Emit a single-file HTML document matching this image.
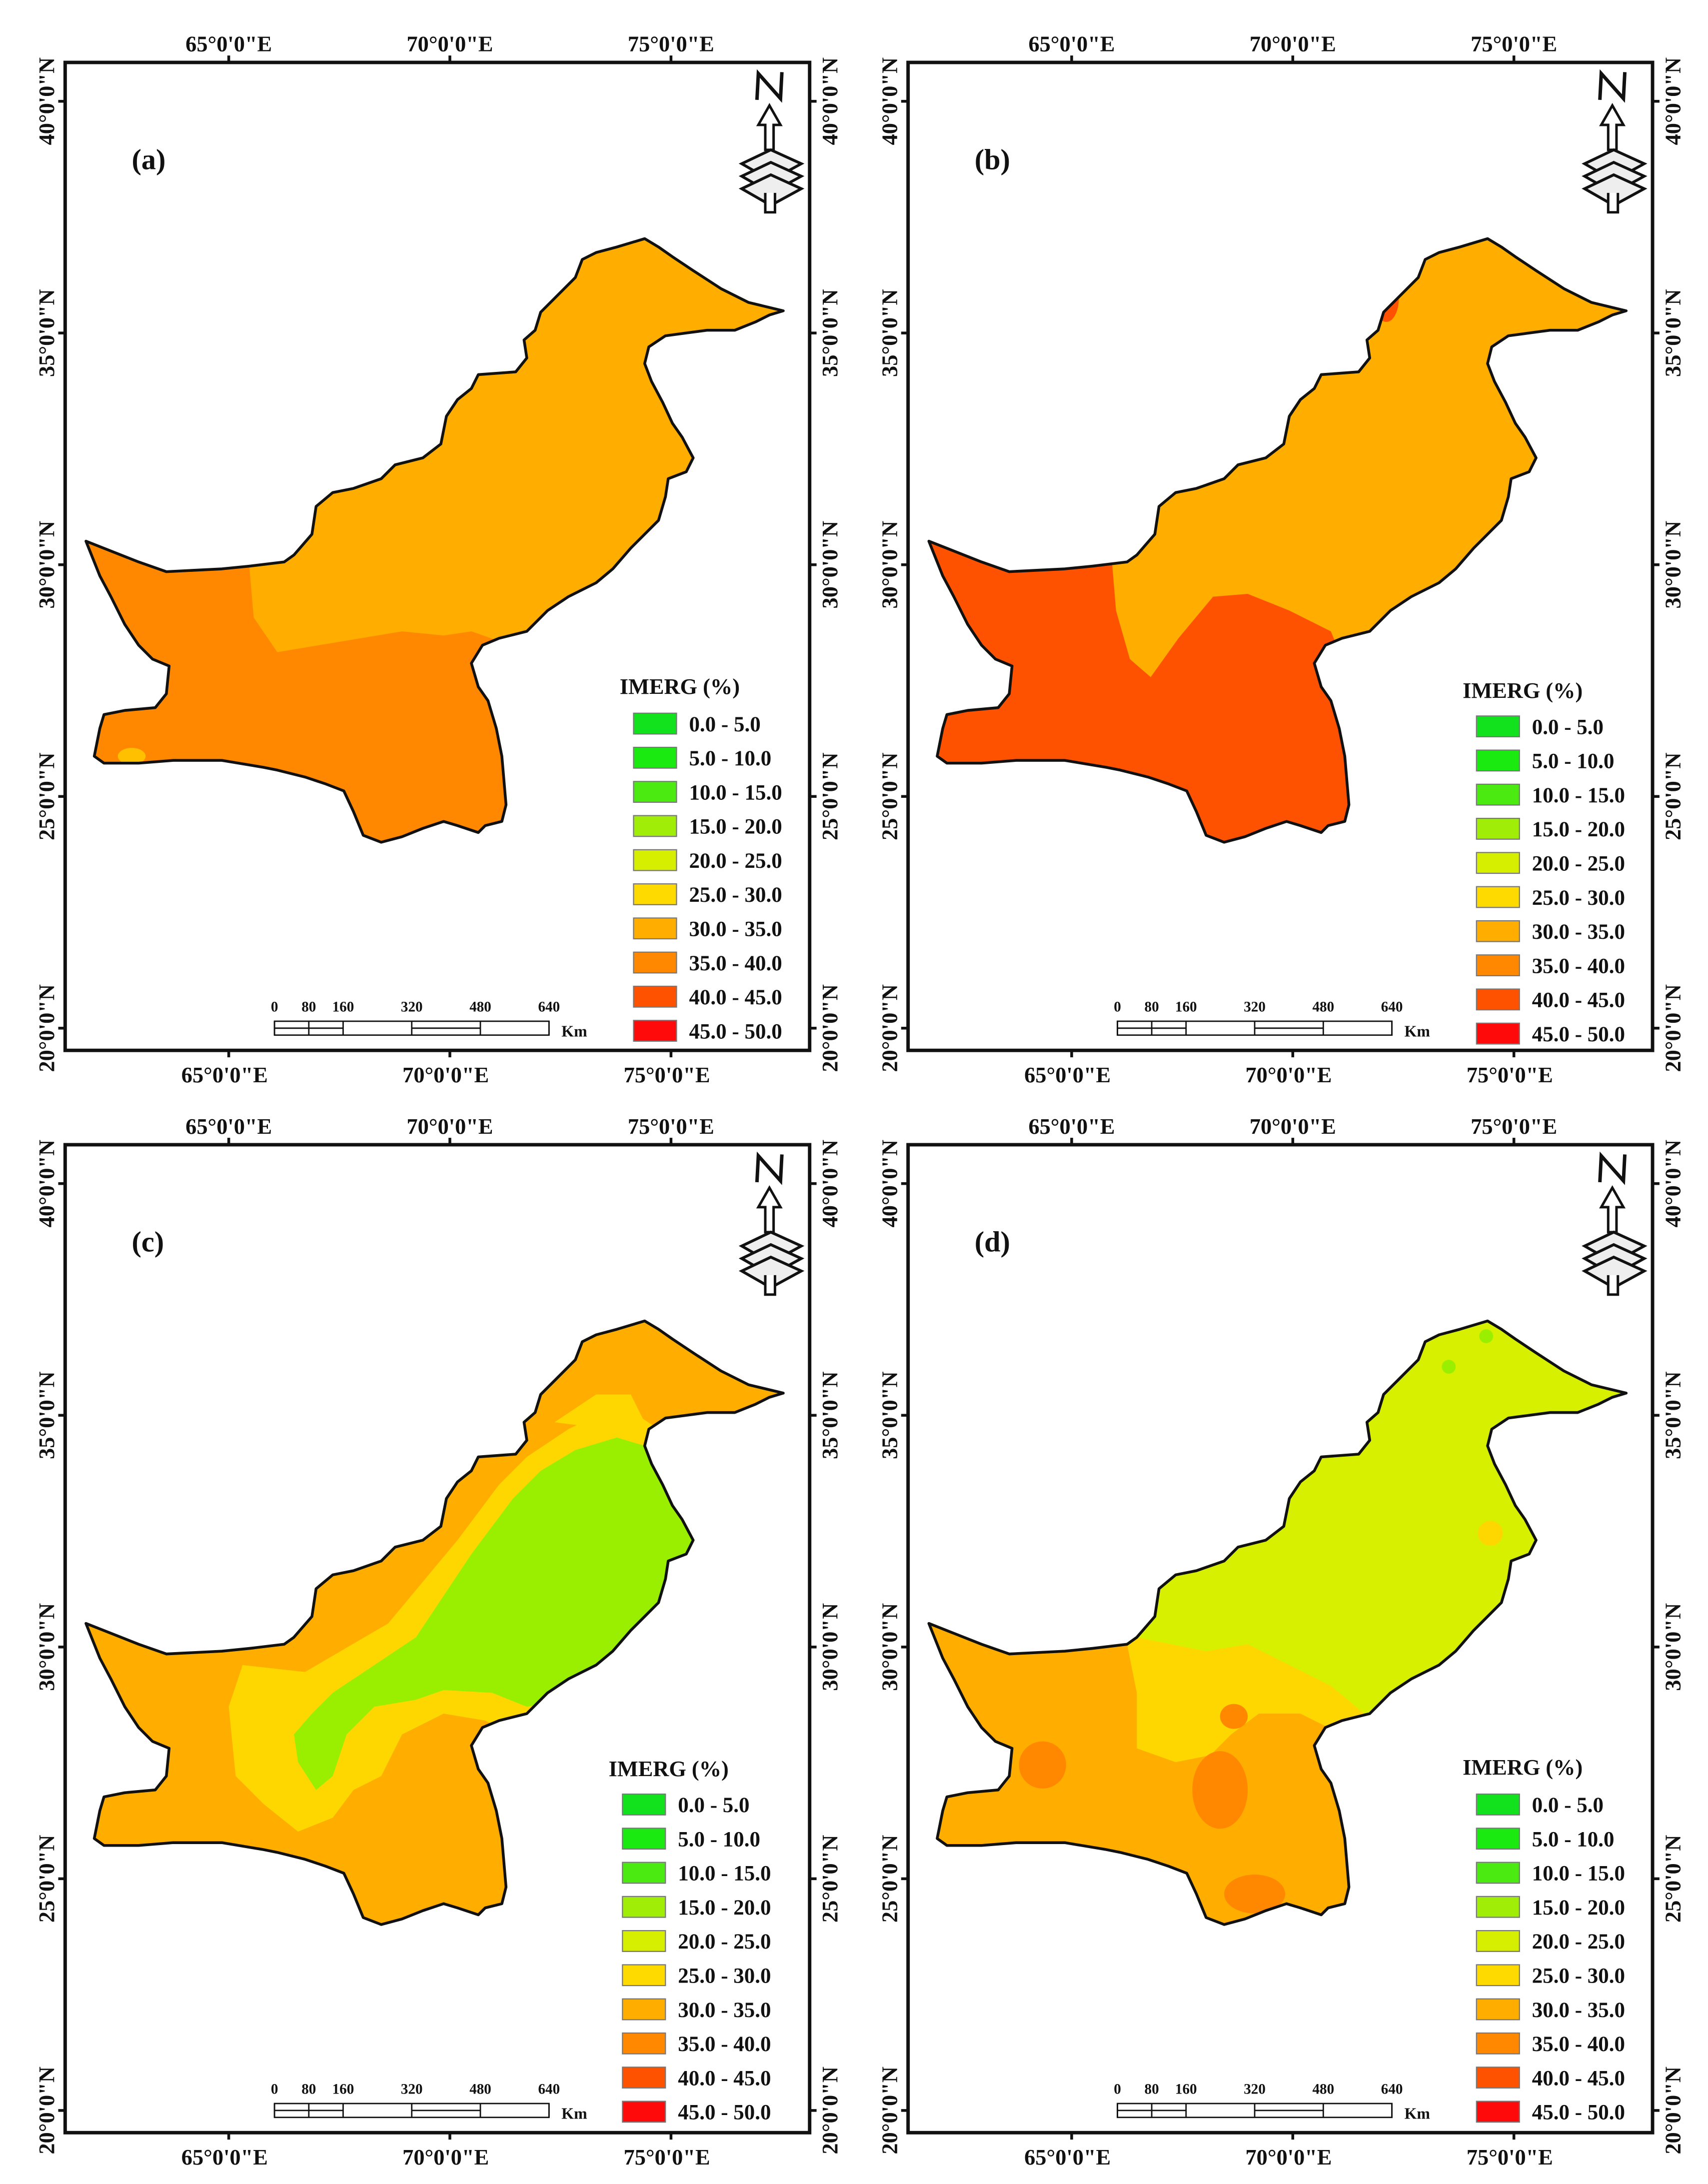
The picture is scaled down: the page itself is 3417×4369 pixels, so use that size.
<!DOCTYPE html>
<html><head><meta charset="utf-8">
<style>
html,body{margin:0;padding:0;background:#fff;}
svg{display:block;}
text{font-family:"Liberation Serif",serif;font-weight:bold;fill:#111;}
</style></head>
<body>
<svg id="fig" xmlns="http://www.w3.org/2000/svg" width="3417" height="4369" viewBox="0 0 1232 1574" preserveAspectRatio="none"></svg>
<script>
// ---- data ----
const panelLetters = ["(a)","(b)","(c)","(d)"];
const legendRanges = ["0.0 - 5.0","5.0 - 10.0","10.0 - 15.0","15.0 - 20.0","20.0 - 25.0","25.0 - 30.0","30.0 - 35.0","35.0 - 40.0","40.0 - 45.0","45.0 - 50.0"];
const legendColors = ["#12E21E","#1BEA10","#4BEA10","#A0EE08","#D6EE00","#FFDA00","#FFAE00","#FF8800","#FF5200","#FF0A0A"];
const lonTicks = [65,70,75];
const latTicks = [40,35,30,25,20];
const scaleLabels = ["0","80","160","320","480","640"];
const scaleKm = [0,80,160,320,480,640];

const NS="http://www.w3.org/2000/svg";
const svg=document.getElementById('fig');
function mk(tag,attrs,parent){const e=document.createElementNS(NS,tag);for(const k in attrs)e.setAttribute(k,attrs[k]);(parent||svg).appendChild(e);return e;}

const lonX = v => 165 + (v-65)*31.9;
const latY = v => 73 + (40-v)*33.4;
const kmX = v => 198 + v*(198/640);

const outline="M62,390 L100,405 L120,412 L160,410 L180,408 L205,405 L212,400 L225,385 L228,365 L240,355 L255,352 L275,345 L285,335 L305,330 L318,320 L322,300 L330,288 L340,280 L345,270 L372,268 L380,258 L378,245 L386,238 L390,225 L400,215 L415,200 L420,187 L430,182 L445,178 L465,172 L475,178 L485,185 L500,195 L520,208 L540,218 L565,224 L555,227 L545,232 L530,238 L510,238 L495,240 L480,242 L468,250 L465,262 L470,275 L478,290 L485,305 L492,315 L500,330 L495,340 L482,345 L480,358 L475,375 L465,385 L455,395 L442,410 L430,420 L410,430 L395,440 L380,455 L360,460 L348,465 L340,478 L345,495 L352,505 L358,525 L362,545 L365,580 L362,592 L350,595 L345,600 L330,595 L320,592 L305,597 L290,603 L275,607 L262,602 L255,585 L248,570 L235,565 L220,560 L200,555 L190,553 L160,548 L125,548 L100,550 L75,550 L68,545 L72,525 L75,515 L90,512 L112,510 L120,500 L122,480 L110,475 L100,465 L90,450 L80,430 L72,415 Z";

const offsets=[[0,0],[608,0],[0,780],[608,780]];
const regions=[
 [["poly","#FFAE00","0,0 700,0 700,700 0,700"],
  ["poly","#FF8800","0,380 178,380 180,410 183,445 200,470 230,465 260,460 290,455 320,458 340,455 360,462 380,470 400,700 0,700"],
  ["ell","#FFC000",95,545,10,6]],
 [["poly","#FFAE00","0,0 700,0 700,700 0,700"],
  ["poly","#FF5200","0,380 192,380 197,440 207,475 222,488 242,460 267,430 292,428 322,440 352,455 362,480 420,700 0,700"],
  ["ell","#FF5200",392,215,9,17]],
 [["poly","#FFAE00","0,0 700,0 700,700 0,700"],
  ["poly","#FFD700","165,450 175,420 220,425 280,390 330,330 360,290 380,270 410,250 440,235 460,240 490,260 520,320 520,400 470,440 420,470 380,475 350,460 320,455 290,470 275,500 255,510 240,530 215,540 190,520 170,500"],
  ["poly","#9AEE00","225,455 240,440 300,400 340,340 370,300 390,280 415,265 445,256 465,262 480,250 520,320 510,400 470,420 450,425 410,445 380,450 355,440 320,438 300,445 270,450 250,470 240,500 228,510 215,490 212,470"],
  ["poly","#FFD700","400,245 430,225 455,225 465,245 440,250"]],
 [["poly","#FFAE00","0,0 700,0 700,700 0,700"],
  ["poly","#FFD700","200,380 212,440 212,480 240,490 265,485 280,470 300,455 330,455 360,470 390,480 420,470 420,380"],
  ["poly","#D6F000","150,0 700,0 700,480 392,470 382,460 352,435 322,420 292,405 262,410 212,400 212,330 150,330"],
  ["ell","#FFD700",467,325,9,9],
  ["ell","#FF8800",144,492,17,17],
  ["ell","#FF8800",282,457,10,9],
  ["ell","#FF8800",272,510,20,28],
  ["ell","#FF8800",297,585,22,14],
  ["ell","#9AEE00",437,205,5,5],
  ["ell","#9AEE00",464,183,5,5]]
];
const legendY=[[494,521],[497,523],[494,520],[493,520]];
const names=["a","b","c","d"];

offsets.forEach((o,i)=>{
  const g=mk('g',{transform:`translate(${o[0]},${o[1]})`});
  
  
  const fr=mk('rect',{x:47,y:45,width:537,height:712,fill:'#fff',stroke:'#111','stroke-width':2.5},g);
  
  
  lonTicks.forEach(v=>{
    const x=lonX(v);
    mk('line',{x1:x,y1:45,x2:x,y2:40,stroke:'#111','stroke-width':2},g);
    mk('line',{x1:x,y1:757,x2:x,y2:762,stroke:'#111','stroke-width':2},g);
    const t1=mk('text',{x:x,y:37,'text-anchor':'middle','font-size':16},g);t1.textContent=v+"°0'0\"E";
    
    
    const t2=mk('text',{x:x-3,y:780,'text-anchor':'middle','font-size':16},g);t2.textContent=v+"°0'0\"E";
    
    
  });
  latTicks.forEach(v=>{
    const y=latY(v);
    mk('line',{x1:47,y1:y,x2:42,y2:y,stroke:'#111','stroke-width':2},g);
    mk('line',{x1:584,y1:y,x2:589,y2:y,stroke:'#111','stroke-width':2},g);
    const t1=mk('text',{x:0,y:0,'text-anchor':'middle','font-size':16,transform:`translate(39,${y}) rotate(-90)`},g);t1.textContent=v+"°0'0\"N";
    
    
    const t2=mk('text',{x:0,y:0,'text-anchor':'middle','font-size':16,transform:`translate(604,${y}) rotate(-90)`},g);t2.textContent=v+"°0'0\"N";
    
    
  });
  const cp=mk('clipPath',{id:'clip'+i},g);
  mk('path',{d:outline},cp);
  const mg=mk('g',{'clip-path':`url(#clip${i})`},g);
  
  
  regions[i].forEach(r=>{
    if(r[0]==='poly'){const p=mk('polygon',{points:r[2],fill:r[1]},mg);
      
      }
    else{const e=mk('ellipse',{cx:r[2],cy:r[3],rx:r[4],ry:r[5],fill:r[1]},mg);
      
      }
  });
  const ol=mk('path',{d:outline,fill:'none',stroke:'#111','stroke-width':2,'stroke-linejoin':'round'},g);
  
  
  const pl=mk('text',{x:95,y:122,'font-size':21},g);pl.textContent=panelLetters[i];
  
  
  const na=mk('g',{},g);
  
  
  mk('path',{d:'M546,72 L547,53 L563,71 L564,52',fill:'none',stroke:'#111','stroke-width':2.5},na);
  mk('path',{d:'M555,76 L547,90 L552,90 L552,108 L558,108 L558,90 L563,90 Z',fill:'#fff',stroke:'#111','stroke-width':1.8},na);
  [0,1,2].forEach(k=>mk('path',{d:`M535,${118+k*9} L556,${108+k*9} L578,${118+k*9} L556,${130+k*9} Z`,fill:'#eee',stroke:'#111','stroke-width':2},na));
  mk('path',{d:'M552,139 L552,153 L559,153 L559,139',fill:'#fff',stroke:'#111','stroke-width':1.8},na);
  const sb=mk('g',{},g);
  
  
  scaleKm.forEach((v,k)=>{const t=mk('text',{x:kmX(v),y:729,'text-anchor':'middle','font-size':10.5},sb);t.textContent=scaleLabels[k];});
  mk('rect',{x:kmX(0),y:736,width:kmX(640)-kmX(0),height:10,fill:'#fff',stroke:'#111','stroke-width':1},sb);
  scaleKm.forEach(v=>mk('line',{x1:kmX(v),y1:736,x2:kmX(v),y2:746,stroke:'#111','stroke-width':1},sb));
  mk('line',{x1:kmX(0),y1:741,x2:kmX(160),y2:741,stroke:'#111','stroke-width':1},sb);
  mk('line',{x1:kmX(320),y1:741,x2:kmX(480),y2:741,stroke:'#111','stroke-width':1},sb);
  const km=mk('text',{x:405,y:747,'font-size':11.5},sb);km.textContent='Km';
  const lg=mk('g',{},g);
  
  
  const ly=legendY[i];
  const lx=(i===2)?441:449;
  const tt=mk('text',{x:lx-2,y:ly[0]+6,'font-size':16},lg);tt.textContent='IMERG (%)';
  legendRanges.forEach((lab,k)=>{
    const y=ly[1]+k*24.6;
    const r=mk('rect',{x:lx+8,y:y-7,width:31,height:15,fill:legendColors[k],stroke:'#777','stroke-width':0.8},lg);
    
    
    const t=mk('text',{x:lx+48,y:y+6,'font-size':15.5},lg);t.textContent=lab;
    
    
  });
});
</script>
</body></html>
